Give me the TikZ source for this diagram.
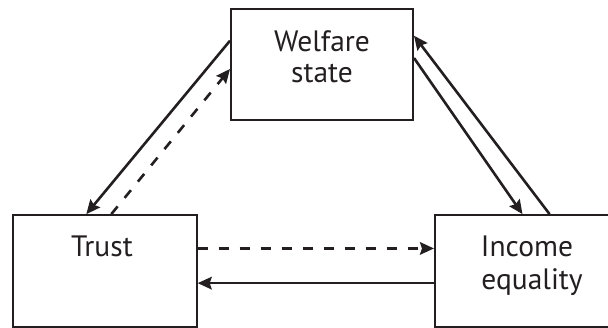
\documentclass[tikz,border=0pt]{standalone}
\usepackage{fontspec}
\setmainfont{PT Sans}
\usetikzlibrary{arrows.meta}
\definecolor{ink}{RGB}{35,31,32}
\begin{document}
\begin{tikzpicture}[x=1pt,y=-1pt,
  box/.style={draw=ink,line width=2pt,rectangle,inner sep=0pt},
  lbl/.style={text=ink,font=\fontsize{29.5}{33}\selectfont,align=center,inner sep=0pt},
  conn/.style={draw=ink,line width=2.6pt,-{Stealth[length=14pt,width=12.5pt,inset=2pt]}},
  dsh/.style={conn,dash pattern=on 10pt off 11pt}]
\useasboundingbox (0,0) rectangle (608,328);
\node[box,minimum width=182pt,minimum height=111pt] (welfare) at (322,64.5) {};
\node[box,minimum width=183.4pt,minimum height=111.7pt] (trust) at (105,271) {};
\node[box,minimum width=175pt,minimum height=111.7pt] (income) at (522.5,271) {};
\node[lbl,anchor=base] (wt) at (322,51.7) {Welfare};
\node[lbl,anchor=base] (st) at (322,83) {state};
\node[lbl,anchor=base] (tt) at (102,256.7) {Trust};
\node[lbl,anchor=base] (it) at (527,256.7) {Income};
\node[lbl,anchor=base] (et) at (532,290) {equality};
\draw[conn] ([yshift=-32.7pt]welfare.north west) -- ([xshift=74pt]trust.north west);
\draw[dsh] ([xshift=99pt]trust.north west) -- ([yshift=-61pt]welfare.north west);
\draw[conn] ([yshift=-50pt]welfare.north east) -- ([xshift=88.5pt]income.north west);
\draw[conn] ([xshift=115.6pt]income.north west) -- ([yshift=-27.7pt]welfare.north east);
\draw[dsh] ([yshift=-34.3pt]trust.north east) -- ([yshift=-34.3pt]income.north west);
\draw[conn] ([yshift=-69pt]income.north west) -- ([yshift=-69pt]trust.north east);
\end{tikzpicture}
\end{document}
